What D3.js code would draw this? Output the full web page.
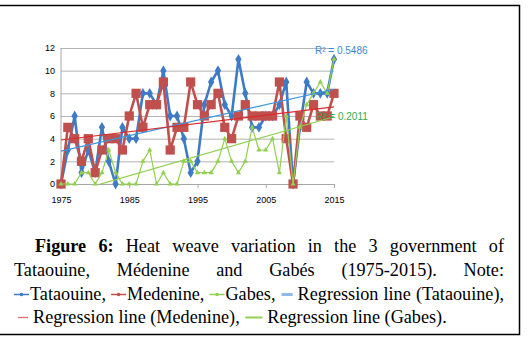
<!DOCTYPE html>
<html>
<head>
<meta charset="utf-8">
<script src="https://cdn.jsdelivr.net/npm/d3@7"></script>
<style>
body{margin:0;background:#fff}
svg{display:block}
.axis text{font-family:"Liberation Sans",Arial,sans-serif;font-size:9px;fill:#000}
.caption text{font-family:"Liberation Serif","Times New Roman",serif;font-size:18.2px;fill:#000}
</style>
</head>
<body>
<div id="chart"></div>
<script>
const years = [1975,1976,1977,1978,1979,1980,1981,1982,1983,1984,1985,1986,1987,1988,1989,1990,1991,1992,1993,1994,
    1995,1996,1997,1998,1999,2000,2001,2002,2003,2004,2005,2006,2007,2008,2009,2010,2011,2012,2013,2014,2015]
const tataouine = [0,3,6,1,3,1,5,2,0,5,4,4,8,8,7,10,6,6,4,1,2,7,9,10,7,6,11,8,5,5,6,6,7,9,0,5,9,8,8,8,11]
const medenine = [0,5,4,2,4,1,3,4,4,3,6,8,5,7,7,9,3,5,5,9,7,6,7,8,5,4,6,7,6,6,6,6,9,4,0,6,5,7,6,6,8]
const gabes = [0,0,0,1,1,0,1,3,1,0,0,0,2,3,0,1,0,0,2,2,1,1,1,2,4,2,1,2,5,3,3,4,1,6,0,5,7,8,9,8,11]
const yTicks = [0,2,4,6,8,10,12]
const xTicks = [1975,1985,1995,2005,2015]
const r2Labels = ["R² = 0.5486", "R² = 0.2011"]

const width = 531
const height = 341
const plot = {left: 61, right: 334, top: 48, bottom: 184}

const svg = d3.select("#chart").append("svg")
    .attr("width", width)
    .attr("height", height)

const x = d3.scaleLinear().domain([1975, 2015]).range([plot.left, plot.right])
const y = d3.scaleLinear().domain([0, 12]).range([plot.bottom, plot.top])

// grid + y labels
svg.append("g")
    .attr("class", "axis")
    .attr("transform", `translate(${plot.left},0)`)
    .call(d3.axisLeft(y).tickValues(yTicks).tickSize(-(plot.right - plot.left)).tickPadding(6))
    .call(g => g.select(".domain").remove())
    .call(g => g.selectAll(".tick line").attr("stroke", "#b4b4b4"))

svg.append("line")
    .attr("x1", plot.left).attr("x2", plot.left)
    .attr("y1", plot.top).attr("y2", plot.bottom)
    .attr("stroke", "#a6a6a6")

svg.append("g")
    .attr("class", "axis")
    .attr("transform", `translate(0,${plot.bottom})`)
    .call(d3.axisBottom(x).tickValues(xTicks).tickFormat(d3.format("d")).tickSize(4).tickPadding(8.5))
    .call(g => g.select(".domain").attr("stroke", "#a6a6a6"))
    .call(g => g.selectAll(".tick line").attr("stroke", "#a6a6a6"))

const series = [
    {name: "Tataouine", values: tataouine, color: "#3f7bc4", width: 2.6, symbol: d3.symbolDiamond, size: 34, trend: "#3a97e0"},
    {name: "Medenine", values: medenine, color: "#c0504d", width: 2.6, symbol: d3.symbolSquare, size: 85, trend: "#d92b2b"},
    {name: "Gabes", values: gabes, color: "#92d050", width: 1.2, symbol: d3.symbolTriangle, size: 12, trend: "#92d050"}
]

const line = d3.line().x((d, i) => x(years[i])).y(d => y(d))

series.forEach(s => {
    const g = svg.append("g")
    g.append("path")
        .attr("d", line(s.values))
        .attr("fill", "none")
        .attr("stroke", s.color)
        .attr("stroke-width", s.width)
        .attr("stroke-linejoin", "round")
    g.selectAll("path.mark")
        .data(s.values)
        .enter()
        .append("path")
        .attr("class", "mark")
        .attr("d", d3.symbol(s.symbol, s.size))
        .attr("transform", (d, i) => `translate(${x(years[i])},${y(d)})`)
        .attr("fill", s.color)
})

// least squares trend lines
function fit(vals) {
    const mx = d3.mean(years), my = d3.mean(vals)
    const sxy = d3.sum(years, (t, i) => (t - mx) * (vals[i] - my))
    const sxx = d3.sum(years, t => (t - mx) * (t - mx))
    const b = sxy / sxx
    const a = my - b * mx
    return [years[0], years[years.length - 1]].map(t => [t, a + b * t])
}

svg.append("clipPath").attr("id", "plotClip")
    .append("rect")
    .attr("x", plot.left).attr("y", plot.top - 10)
    .attr("width", plot.right - plot.left).attr("height", plot.bottom - plot.top + 10)

const trendLine = d3.line().x(d => x(d[0])).y(d => y(d[1]))
series.forEach(s => {
    svg.append("path")
        .attr("d", trendLine(fit(s.values)))
        .attr("clip-path", "url(#plotClip)")
        .attr("fill", "none")
        .attr("stroke", s.trend)
        .attr("stroke-width", 1.2)
})

svg.append("text")
    .attr("x", 315).attr("y", 54)
    .attr("font-family", "Liberation Sans, Arial, sans-serif")
    .attr("font-size", 10)
    .attr("fill", "#3a8ad6")
    .text(r2Labels[0])
svg.append("text")
    .attr("x", 316).attr("y", 120)
    .attr("font-family", "Liberation Sans, Arial, sans-serif")
    .attr("font-size", 10)
    .attr("fill", "#2fae4e")
    .text(r2Labels[1])

// caption
const caption = svg.append("g").attr("class", "caption")

function marker(g, kind, color) {
    if (kind == "trend") {
        const w = color.len
        g.append("line").attr("x1", 1).attr("x2", w - 2).attr("y1", -5.5).attr("y2", -5.5)
            .attr("stroke", color.c).attr("stroke-width", color.w)
        return w + 3
    }
    const w = 15
    g.append("line").attr("x1", 0).attr("x2", w).attr("y1", -5.5).attr("y2", -5.5)
        .attr("stroke", color).attr("stroke-width", 1.5)
    g.append("circle").attr("cx", w / 2).attr("cy", -5.5).attr("r", 1.8).attr("fill", color)
    return w + 1
}

function drawLine(tokens, x0, x1, baseline, justify) {
    const groups = tokens.map(tok => {
        const g = caption.append("g")
        let cx = 0
        tok.forEach(part => {
            if (part.marker) {
                const mg = g.append("g").attr("transform", `translate(${cx},${baseline})`)
                cx += marker(mg, part.marker, part.color)
            } else {
                const t = g.append("text").attr("x", cx).attr("y", baseline).text(part.text)
                if (part.bold) t.attr("font-weight", "bold")
                cx += t.node().getComputedTextLength()
            }
        })
        return {g, w: cx}
    })
    const total = d3.sum(groups, d => d.w)
    const gap = justify ? (x1 - x0 - total) / (groups.length - 1) : 4.6
    let pos = x0
    groups.forEach(d => {
        d.g.attr("transform", `translate(${pos},0)`)
        pos += d.w + gap
    })
}

const words = s => s.split(" ").map(w => [{text: w}])

drawLine([[{text: "Figure", bold: true}], [{text: "6:", bold: true}]].concat(words("Heat weave variation in the 3 government of")),
    35, 504, 252, true)
drawLine(words("Tataouine, Médenine and Gabés (1975-2015). Note:"), 14, 504, 276, true)
drawLine([
    [{marker: "series", color: "#3f7bc4"}, {text: "Tataouine,"}],
    [{marker: "series", color: "#c0504d"}, {text: "Medenine,"}],
    [{marker: "series", color: "#92d050"}, {text: "Gabes,"}],
    [{marker: "trend", color: {c: "#8db8e8", w: 3, len: 14}}, {text: "Regression"}],
    [{text: "line"}],
    [{text: "(Tataouine),"}]
], 14, 504, 300, true)
drawLine([
    [{marker: "trend", color: {c: "#e86b6b", w: 1.3, len: 13}}, {text: "Regression"}],
    [{text: "line"}],
    [{text: "(Medenine),"}],
    [{marker: "trend", color: {c: "#92d050", w: 2, len: 20}}, {text: "Regression"}],
    [{text: "line"}],
    [{text: "(Gabes)."}]
], 17, 504, 323, false)

// frame
svg.append("path")
    .attr("d", "M0,5.5H519.5V334.5H0")
    .attr("fill", "none")
    .attr("stroke", "#000")
    .attr("stroke-width", 1.5)
</script>
</body>
</html>
